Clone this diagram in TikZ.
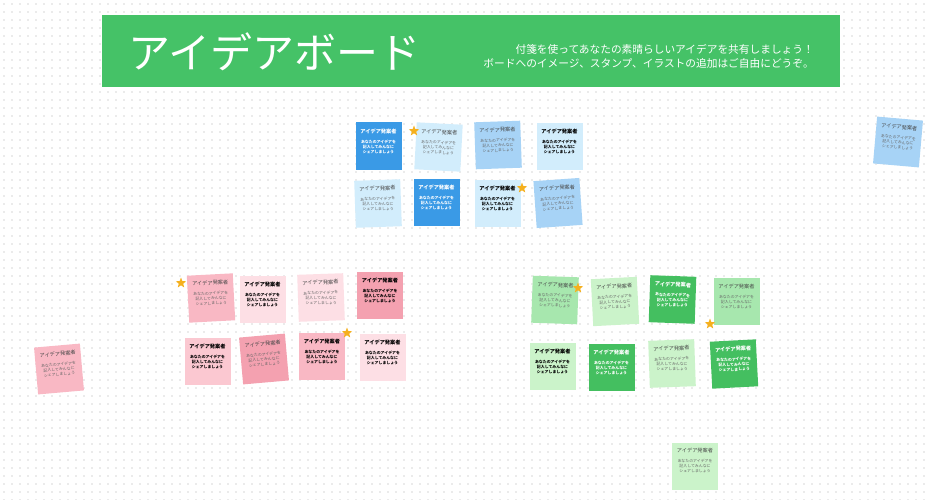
\documentclass[tikz,border=0pt]{standalone}
\usepackage{fontspec}
\usetikzlibrary{shapes.geometric}
\newfontfamily\jpfont{Noto Sans CJK JP}
\definecolor{bannergreen}{HTML}{45C267}
\definecolor{dotgray}{HTML}{EBEBEB}
\definecolor{blueD}{HTML}{3A9AE6}
\definecolor{blueL}{HTML}{A7D3F6}
\definecolor{blueVL}{HTML}{D2EDFC}
\definecolor{pinkD}{HTML}{F4A1B0}
\definecolor{pinkM}{HTML}{F9B8C4}
\definecolor{pinkL}{HTML}{FBC8D1}
\definecolor{pinkVL}{HTML}{FDDFE5}
\definecolor{greenD}{HTML}{44BF60}
\definecolor{greenL}{HTML}{A7E7AE}
\definecolor{greenVL}{HTML}{CBF3CA}
\definecolor{titlegray}{HTML}{484848}
\definecolor{bodygray}{HTML}{666666}
\definecolor{stargold}{HTML}{F5B01E}
\newcommand{\stickytext}[3]{\parbox[c][47pt][t]{46pt}{\centering\jpfont#3\vspace*{6pt}{\color{#1}\fontsize{5.2}{6}\selectfont アイデア発案者\par}\vspace{5pt}{\color{#2}\fontsize{3.9}{5}\selectfont あなたのアイデアを\\記入してみんなに\\シェアしましょう\par}}}
\newcommand{\notewhite}{\stickytext{white}{white}{\bfseries}}
\newcommand{\noteblack}{\stickytext{black}{black}{\bfseries}}
\newcommand{\notegray}{\stickytext{titlegray}{bodygray}{}}
\tikzset{
  stickynote/.style={inner sep=0pt, outer sep=0pt, draw=none},
  starmark/.style={star, star points=5, star point ratio=2.4, minimum size=11pt, inner sep=0pt, fill=stargold, draw=none},
  dotrow/.style={draw=dotgray, line width=1.3pt, dash pattern=on 1.3pt off 6.7pt, dash phase=-3.35pt},
}
\begin{document}
\begin{tikzpicture}[x=1pt,y=-1pt]
\useasboundingbox (0,0) rectangle (931,500);
\fill[white] (0,0) rectangle (931,500);
\foreach \r in {0,...,62} { \draw[dotrow] (0,4+8*\r) -- (931,4+8*\r); }
% banner
\node[fill=bannergreen, minimum width=738pt, minimum height=72pt, inner sep=0pt] (banner) at (471,51) {};
\node[anchor=west, text=white, font=\jpfont\fontsize{42}{42}\selectfont, inner sep=0pt] (title) at (128,52) {アイデアボード};
\node[anchor=east, text=white, font=\jpfont\fontsize{10.7}{12}\selectfont, inner sep=0pt] (sub1) at (814,49) {付箋を使ってあなたの素晴らしいアイデアを共有しましょう！};
\node[anchor=east, text=white, font=\jpfont\fontsize{10.7}{12}\selectfont, inner sep=0pt] (sub2) at (814,63) {ボードへのイメージ、スタンプ、イラストの追加はご自由にどうぞ。};
% blue group
\node[stickynote, fill=blueD] (b1) at (378.5,146) {\notewhite};
\node[stickynote, fill=blueVL, rotate=-3] (b2) at (438.5,147) {\notegray};
\node[stickynote, fill=blueL, rotate=2] (b3) at (498,145) {\notegray};
\node[stickynote, fill=blueVL] (b4) at (559.5,146.5) {\noteblack};
\node[stickynote, fill=blueVL, rotate=2] (b5) at (378,203.5) {\notegray};
\node[stickynote, fill=blueD] (b6) at (436.5,202) {\notewhite};
\node[stickynote, fill=blueVL] (b7) at (497.5,203.5) {\noteblack};
\node[stickynote, fill=blueL, rotate=4] (b8) at (558,203) {\notegray};
\node[starmark] (sb2) at (414,131) {};
\node[starmark] (sb7) at (522,188) {};
% pink group
\node[stickynote, fill=pinkM, rotate=3] (p1) at (211,298) {\notegray};
\node[stickynote, fill=pinkVL] (p2) at (262.5,299) {\noteblack};
\node[stickynote, fill=pinkVL, rotate=2] (p3) at (321,297.5) {\notegray};
\node[stickynote, fill=pinkD] (p4) at (380,295) {\noteblack};
\node[stickynote, fill=pinkL] (p5) at (207.5,361) {\noteblack};
\node[stickynote, fill=pinkD, rotate=5] (p6) at (264,359) {\notegray};
\node[stickynote, fill=pinkM] (p7) at (322,356.5) {\noteblack};
\node[stickynote, fill=pinkVL] (p8) at (382.5,357.5) {\noteblack};
\node[starmark] (sp1) at (181,283) {};
\node[starmark] (sp7) at (347,333) {};
% green group
\node[stickynote, fill=greenL, rotate=-2] (g1) at (555,300) {\notegray};
\node[stickynote, fill=greenVL, rotate=3] (g2) at (615,301.5) {\notegray};
\node[stickynote, fill=greenD, rotate=-2] (g3) at (672.5,299.5) {\notewhite};
\node[stickynote, fill=greenL] (g4) at (736.5,301.5) {\notegray};
\node[stickynote, fill=greenVL] (g5) at (552.5,366) {\noteblack};
\node[stickynote, fill=greenD] (g6) at (611.5,367) {\notewhite};
\node[stickynote, fill=greenVL, rotate=2] (g7) at (672,363.5) {\notegray};
\node[stickynote, fill=greenD, rotate=3] (g8) at (734,364) {\notewhite};
\node[starmark] (sg1) at (578,288) {};
\node[starmark] (sg4) at (710,324) {};
% standalone notes
\node[stickynote, fill=blueL, rotate=-5] (sb) at (898,142) {\notegray};
\node[stickynote, fill=pinkM, rotate=5] (sp) at (59,369) {\notegray};
\node[stickynote, fill=greenVL] (sg) at (695,466) {\notegray};
\end{tikzpicture}
\end{document}
